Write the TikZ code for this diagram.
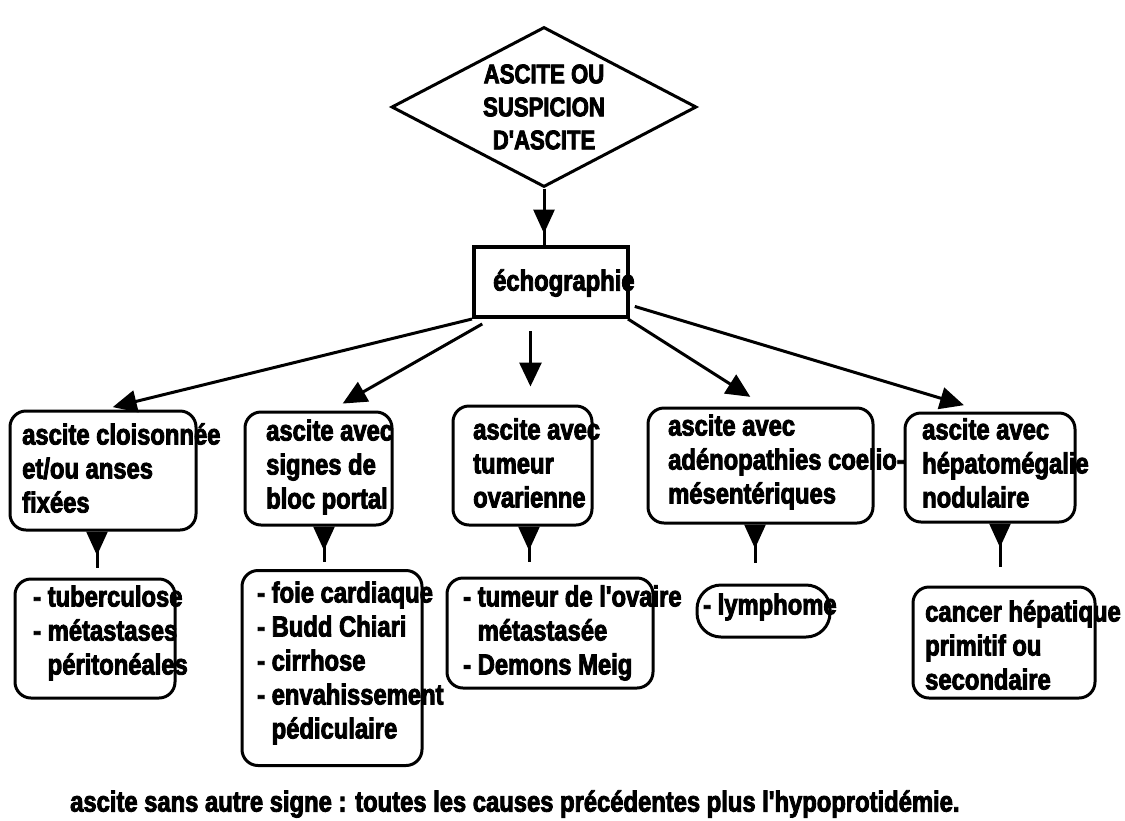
\documentclass[tikz,border=0pt]{standalone}
\usepackage{fontspec}
\setmainfont{Liberation Sans}
\newfontfamily\heavyfont{Liberation Sans}[FakeStretch=0.82,FakeBold=3]
\usetikzlibrary{shapes.geometric,arrows.meta,calc,decorations.markings}
\tikzset{
  lbl/.style={inner sep=0pt, anchor=west, align=left, font=\heavyfont\bfseries\fontsize{29}{34}\selectfont},
  rbox/.style={draw, line width=3pt, rounded corners=16pt, inner sep=0pt},
  sbox/.style={draw, line width=4pt, inner sep=0pt},
  arr/.style={line width=3pt, -{Triangle[length=24pt,width=22pt]}},
  midarr/.style={line width=3pt, postaction={decorate}, decoration={markings, mark=at position #1 with {\arrow{Triangle[length=24pt,width=21pt]}}}}
}
\begin{document}
\begin{tikzpicture}[x=1pt,y=-1pt]
\useasboundingbox (0,0) rectangle (1125,820);
% top
\node[draw, line width=3pt, shape=diamond, aspect=1.9, minimum width=305pt, minimum height=160pt, inner sep=0pt, align=center, font=\heavyfont\bfseries\fontsize{27}{33}\selectfont] (q) at (544,107) {ASCITE OU\\SUSPICION\\D'ASCITE};
\node[sbox, minimum width=154pt, minimum height=70pt] (echo) at (551,282) {};
\node[lbl] (techo) at (493,283) {échographie};
% level 1 boxes
\node[rbox, minimum width=186pt, minimum height=119pt] (b1) at (103,470.5) {};
\node[rbox, minimum width=147pt, minimum height=113pt] (b2) at (318.5,468.5) {};
\node[rbox, minimum width=139pt, minimum height=119pt] (b3) at (522.5,465.5) {};
\node[rbox, minimum width=225pt, minimum height=115pt] (b4) at (760.5,465.5) {};
\node[rbox, minimum width=170pt, minimum height=109pt] (b5) at (990,467.5) {};
\node[lbl] (t1) at (22,468) {ascite cloisonnée\\et/ou anses\\fixées};
\node[lbl] (t2) at (266,467) {ascite avec\\signes de\\bloc portal};
\node[lbl] (t3) at (473,463) {ascite avec\\tumeur\\ovarienne};
\node[lbl] (t4) at (668,462) {ascite avec\\adénopathies coelio-\\mésentériques};
\node[lbl] (t5) at (922,463) {ascite avec\\hépatomégalie\\nodulaire};
% level 2 boxes
\node[rbox, minimum width=160pt, minimum height=119pt] (r1) at (95,638.5) {};
\node[rbox, minimum width=180pt, minimum height=195pt] (r2) at (332,668) {};
\node[rbox, minimum width=206pt, minimum height=110pt] (r3) at (550,633) {};
\node[rbox, rounded corners=24pt, minimum width=133pt, minimum height=52pt] (r4) at (763.5,611) {};
\node[rbox, minimum width=182pt, minimum height=111pt] (r5) at (1004,642.5) {};
\node[lbl] (u1) at (33,633) {- tuberculose\\- métastases\\\phantom{- }péritonéales};
\node[lbl] (u2) at (257,663) {- foie cardiaque\\- Budd Chiari\\- cirrhose\\- envahissement\\\phantom{- }pédiculaire};
\node[lbl] (u3) at (463,633) {- tumeur de l'ovaire\\\phantom{- }métastasée\\- Demons Meig};
\node[lbl] (u4) at (703,607) {- lymphome};
\node[lbl] (u5) at (925,645) {cancer hépatique\\primitif ou\\secondaire};
% bottom note
\node[lbl] (note) at (70,804) {ascite sans autre signe : toutes les causes précédentes plus l'hypoprotidémie.};
% connector end points
\coordinate (e2) at ($(echo.south west)!0.12!(echo.south east)$);
\coordinate (e3) at ($(echo.south west)!0.37!(echo.south east)$);
\coordinate (e4) at ($(echo.south east)+(-2,0)$);
\coordinate (e5) at ($(echo.east)+(0,23)$);
\coordinate (n2) at ($(b2.north)+(12,0)$);
\coordinate (n4) at ($(b4.north)+(5,0)$);
\coordinate (n5) at ($(b5.north)+(-5,0)$);
\coordinate (x1) at (97,0);
\coordinate (x2) at (324,0);
\coordinate (x3) at (529,0);
\coordinate (x4) at (755,0);
\coordinate (x5) at (1000,0);
% connectors
\draw[midarr=45pt] (q.south) -- (q.south |- echo.north);
\draw[arr, shorten >=10pt] (echo.south west) -- (b1.north);
\draw[arr, shorten <=10pt, shorten >=14pt] (e2) -- (n2);
\draw[arr, shorten <=12pt, shorten >=18pt] (e3) -- (e3 |- b3.north);
\draw[arr, shorten >=18pt] (e4) -- (n4);
\draw[arr, shorten <=5pt, shorten >=22pt] (e5) -- (n5);
\draw[midarr=24pt, shorten >=10pt] (b1.south -| x1) -- (r1.north -| x1);
\draw[midarr=24pt, shorten >=7pt] (b2.south -| x2) -- (r2.north -| x2);
\draw[midarr=24pt, shorten >=15pt] (b3.south -| x3) -- (r3.north -| x3);
\draw[midarr=24pt, shorten >=21pt] (b4.south -| x4) -- (r4.north -| x4);
\draw[midarr=24pt, shorten >=19pt] (b5.south -| x5) -- (r5.north -| x5);
\end{tikzpicture}
\end{document}
